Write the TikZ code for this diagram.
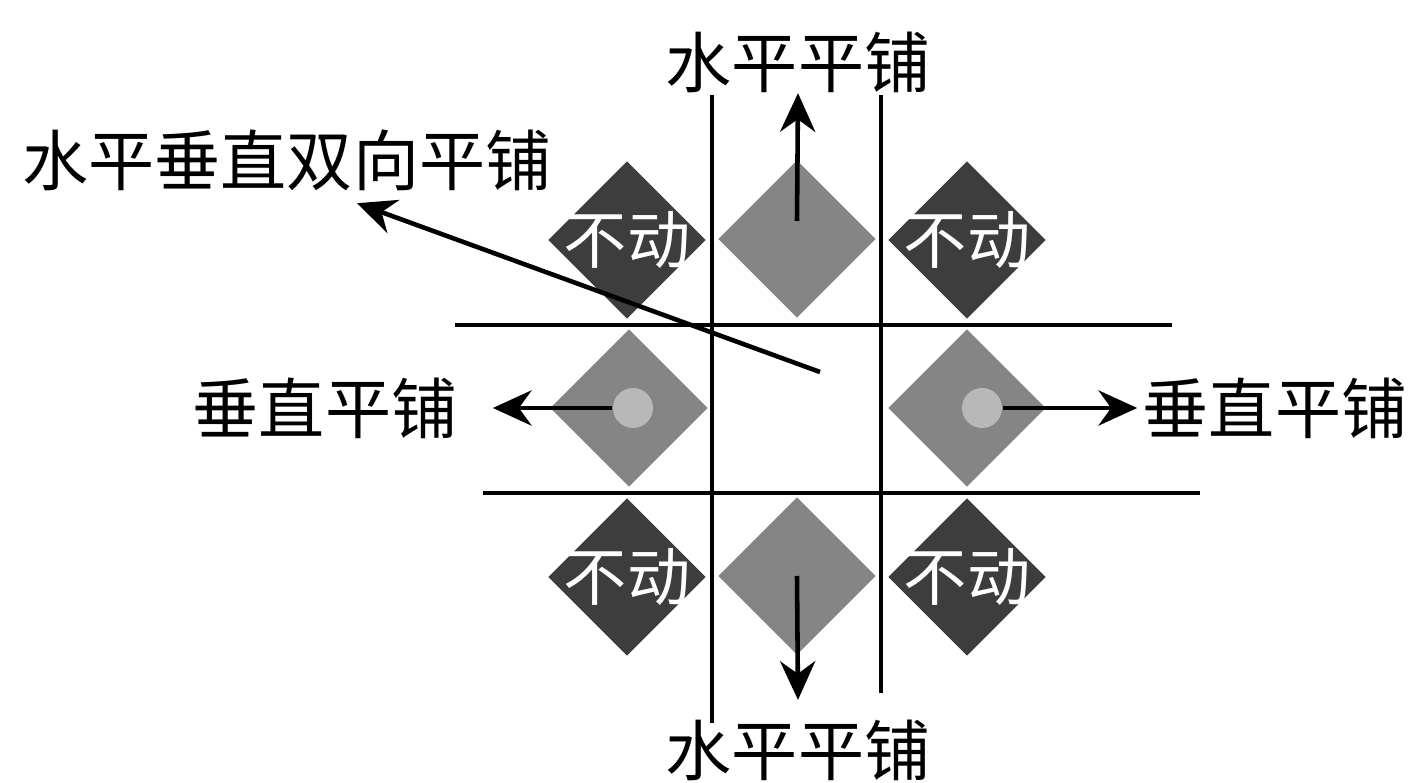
\documentclass[tikz,border=0pt]{standalone}
\usepackage{fontspec}
\setmainfont{Noto Sans CJK SC}
\usetikzlibrary{arrows.meta,shapes.geometric}
\definecolor{tiledark}{gray}{0.24}
\definecolor{tilegray}{gray}{0.52}
\definecolor{dotgray}{gray}{0.72}

\begin{document}
\begin{tikzpicture}[
  fixed/.style={diamond,fill=tiledark,minimum size=1.58cm,inner sep=0pt,
    label={[text=white,inner sep=0pt,font=\fontsize{18}{18}\selectfont]center:不动}},
  moving/.style={diamond,fill=tilegray,minimum size=1.58cm,inner sep=0pt},
  lbl/.style={inner sep=0pt,font=\fontsize{18.8}{20}\selectfont},
  dot/.style={circle,fill=dotgray,minimum size=0.4cm,inner sep=0pt},
  grid/.style={line width=0.9pt},
  arr/.style={line width=1.3pt,-{Stealth[length=11pt,width=10pt]}}]
  \useasboundingbox (0,0) rectangle (14.2,7.82);
  % tiles
  \node[fixed]  (tl) at (6.27,5.42) {};
  \node[moving] (tm) at (7.97,5.43) {};
  \node[fixed]  (tr) at (9.67,5.42) {};
  \node[moving] (ml) at (6.29,3.74) {};
  \node[moving] (mr) at (9.67,3.74) {};
  \node[fixed]  (bl) at (6.27,2.05) {};
  \node[moving] (bm) at (7.97,2.06) {};
  \node[fixed]  (br) at (9.67,2.05) {};
  \node[dot] (c1) at (6.33,3.74) {};
  \node[dot] (c2) at (9.82,3.74) {};
  % grid
  \draw[grid] (7.12,6.87) -- (7.12,0.59);
  \draw[grid] (8.81,6.87) -- (8.81,0.89);
  \draw[grid] (4.55,4.57) -- (11.72,4.57);
  \draw[grid] (4.83,2.89) -- (12.00,2.89);
  % labels
  \node[lbl] (hv)   at (2.87,6.22) {水平垂直双向平铺};
  \node[lbl] (htop) at (7.98,7.20) {水平平铺};
  \node[lbl] (hbot) at (7.98,0.32) {水平平铺};
  \node[lbl] (vl)   at (3.25,3.74) {垂直平铺};
  \node[lbl] (vr)   at (12.75,3.74) {垂直平铺};
  \coordinate (mid) at (8.20,4.10);
  % arrows
  \draw[arr] ([yshift=1.8mm]tm.center) -- (htop.south);
  \draw[arr] (bm.center) -- ([yshift=1.9mm]hbot.north);
  \draw[arr] (c1.west) -- ([xshift=3.5mm]vl.east);
  \draw[arr] (c2.east) -- ([xshift=-0.5mm]vr.west);
  \draw[arr] (mid) -- ([xshift=7mm,yshift=-1.2mm]hv.south);
\end{tikzpicture}
\end{document}
